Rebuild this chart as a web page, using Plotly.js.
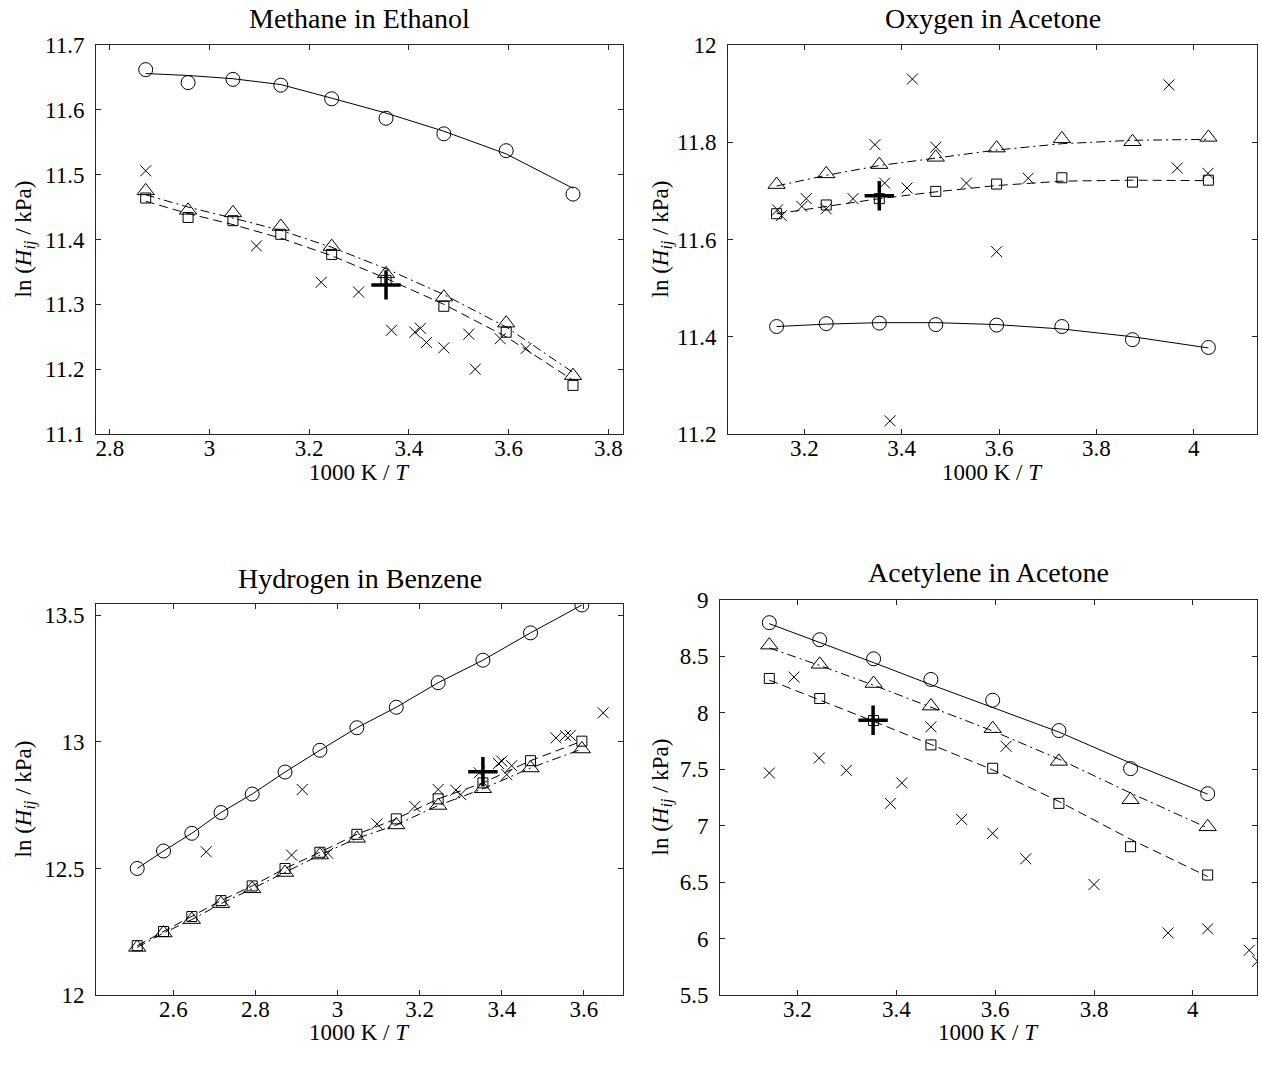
<!DOCTYPE html>
<html>
<head>
<meta charset="utf-8">
<script src="https://cdn.plot.ly/plotly-3.0.1.min.js"></script>
<style>
  html, body { margin: 0; padding: 0; background: #fff; }
  #chart { width: 1262px; height: 1066px; }
</style>
</head>
<body>
<div id="chart"></div>
<script>
// ---------- Panel 1: Methane in Ethanol ----------
const mX        = [2.872, 2.957, 3.047, 3.143, 3.245, 3.354, 3.470, 3.595, 3.729];
const mCirc     = [11.662, 11.642, 11.647, 11.638, 11.617, 11.587, 11.563, 11.537, 11.470];
const mCircFit  = [11.656, 11.653, 11.648, 11.639, 11.618, 11.595, 11.567, 11.532, 11.479];
const mTri      = [11.475, 11.445, 11.441, 11.420, 11.389, 11.347, 11.311, 11.271, 11.190];
const mTriFit   = [11.469, 11.450, 11.433, 11.414, 11.388, 11.355, 11.315, 11.265, 11.195];
const mSq       = [11.464, 11.434, 11.429, 11.408, 11.377, 11.337, 11.297, 11.257, 11.175];
const mSqFit    = [11.459, 11.440, 11.423, 11.402, 11.375, 11.340, 11.300, 11.250, 11.183];
const mExpX     = [2.872, 3.094, 3.224, 3.299, 3.365, 3.412, 3.423, 3.435, 3.470, 3.520, 3.533, 3.583, 3.635];
const mExpY     = [11.506, 11.390, 11.334, 11.319, 11.260, 11.257, 11.263, 11.241, 11.233, 11.254, 11.200, 11.247, 11.232];
const mRefX     = [3.354];
const mRefY     = [11.330];

// ---------- Panel 2: Oxygen in Acetone ----------
const oX        = [3.143, 3.245, 3.354, 3.470, 3.595, 3.729, 3.874, 4.030];
const oCirc     = [11.421, 11.427, 11.428, 11.425, 11.424, 11.421, 11.394, 11.378];
const oCircFit  = [11.421, 11.426, 11.429, 11.429, 11.425, 11.416, 11.400, 11.377];
const oTri      = [11.713, 11.735, 11.754, 11.769, 11.788, 11.807, 11.801, 11.810];
const oTriFit   = [11.710, 11.732, 11.752, 11.768, 11.784, 11.797, 11.804, 11.806];
const oSq       = [11.653, 11.671, 11.684, 11.699, 11.714, 11.727, 11.718, 11.722];
const oSqFit    = [11.653, 11.668, 11.684, 11.698, 11.711, 11.720, 11.722, 11.721];
const oExpX     = [3.145, 3.153, 3.195, 3.204, 3.245, 3.300, 3.345, 3.365, 3.376, 3.411, 3.422, 3.470, 3.533, 3.595, 3.660, 3.949, 3.966, 4.029];
const oExpY     = [11.661, 11.649, 11.668, 11.684, 11.663, 11.684, 11.795, 11.716, 11.227, 11.706, 11.930, 11.790, 11.716, 11.575, 11.726, 11.918, 11.747, 11.736];
const oRefX     = [3.354];
const oRefY     = [11.690];

// ---------- Panel 3: Hydrogen in Benzene ----------
const hX        = [2.512, 2.576, 2.645, 2.716, 2.792, 2.872, 2.957, 3.047, 3.143, 3.245, 3.354, 3.470, 3.595];
const hCirc     = [12.500, 12.569, 12.639, 12.721, 12.794, 12.881, 12.967, 13.056, 13.137, 13.234, 13.323, 13.431, 13.541];
const hTri      = [12.188, 12.245, 12.298, 12.361, 12.420, 12.484, 12.553, 12.619, 12.672, 12.749, 12.815, 12.897, 12.972];
const hSq       = [12.195, 12.251, 12.310, 12.373, 12.431, 12.500, 12.564, 12.635, 12.696, 12.775, 12.838, 12.926, 13.003];
const hExpX     = [2.680, 2.888, 2.914, 2.976, 3.096, 3.188, 3.245, 3.288, 3.300, 3.345, 3.392, 3.400, 3.412, 3.424, 3.532, 3.555, 3.567, 3.647];
const hExpY     = [12.566, 12.553, 12.812, 12.560, 12.676, 12.745, 12.812, 12.809, 12.792, 12.878, 12.915, 12.924, 12.871, 12.906, 13.016, 13.025, 13.026, 13.115];
const hRefX     = [3.354];
const hRefY     = [12.882];

// ---------- Panel 4: Acetylene in Acetone ----------
const aX        = [3.143, 3.245, 3.354, 3.470, 3.595, 3.729, 3.874, 4.030];
const aCirc     = [8.799, 8.648, 8.479, 8.296, 8.112, 7.843, 7.506, 7.284];
const aCircFit  = [8.790, 8.625, 8.445, 8.250, 8.050, 7.830, 7.555, 7.280];
const aTri      = [8.600, 8.430, 8.260, 8.060, 7.860, 7.570, 7.230, 6.990];
const aTriFit   = [8.575, 8.420, 8.245, 8.050, 7.840, 7.590, 7.290, 6.980];
const aSq       = [8.305, 8.127, 7.932, 7.716, 7.509, 7.198, 6.814, 6.563];
const aSqFit    = [8.290, 8.115, 7.925, 7.720, 7.495, 7.215, 6.880, 6.550];
const aExpX     = [3.143, 3.193, 3.244, 3.299, 3.388, 3.411, 3.470, 3.532, 3.595, 3.622, 3.662, 3.800, 3.950, 4.030, 4.114, 4.131];
const aExpY     = [7.467, 8.317, 7.600, 7.491, 7.198, 7.379, 7.876, 7.056, 6.932, 7.704, 6.707, 6.479, 6.050, 6.086, 5.896, 5.799];
const aRefX     = [3.353];
const aRefY     = [7.935];

// ---------- Titles / ranges ----------
const panelTitles = ["Methane in Ethanol", "Oxygen in Acetone", "Hydrogen in Benzene", "Acetylene in Acetone"];
const xLabel = '1000 K / <i>T</i>';
const yLabel = 'ln (<i>H</i><sub><i>ij</i></sub> / kPa)';
const xRanges = [[2.7723, 3.8293], [3.0432, 4.1298], [2.4116, 3.6952], [3.0432, 4.1298]];
const yRanges = [[11.1, 11.7], [11.2, 12.0], [12.0, 13.545], [5.5, 9.0]];
const yDticks = [0.1, 0.2, 0.5, 0.5];

const BLACK = '#000000';
const AX = '#262626';
const FONT = '"Liberation Serif", "DejaVu Serif", serif';

function fitLine(x, y, dash, ax) {
  return { x: x, y: y, mode: 'lines', type: 'scatter', xaxis: 'x' + ax, yaxis: 'y' + ax,
           line: { color: BLACK, width: 1, dash: dash }, hoverinfo: 'skip', showlegend: false };
}
function marks(x, y, symbol, size, ax, lw) {
  return { x: x, y: y, mode: 'markers', type: 'scatter', xaxis: 'x' + ax, yaxis: 'y' + ax,
           marker: { symbol: symbol, size: size, color: BLACK, line: { color: BLACK, width: lw || 1 } },
           showlegend: false };
}
const DASH = '9px,5px';
const DASHDOT = '9px,4px,2px,4px';

const traces = [];
function panel(ax, x, circ, circFit, tri, triFit, sq, sqFit, ex, ey, rx, ry) {
  traces.push(fitLine(x, circFit, 'solid', ax));
  traces.push(fitLine(x, triFit, DASHDOT, ax));
  traces.push(fitLine(x, sqFit, DASH, ax));
  traces.push(marks(x, circ, 'circle-open', 14, ax));
  traces.push(marks(x, tri, 'triangle-up-open', 15, ax));
  traces.push(marks(x, sq, 'square-open', 10, ax));
  traces.push(marks(ex, ey, 'x-thin-open', 11, ax));
  traces.push(marks(rx, ry, 'cross-thin-open', 21, ax, 3.5));
}
panel('',  mX, mCirc, mCircFit, mTri, mTriFit, mSq, mSqFit, mExpX, mExpY, mRefX, mRefY);
panel('2', oX, oCirc, oCircFit, oTri, oTriFit, oSq, oSqFit, oExpX, oExpY, oRefX, oRefY);
panel('3', hX, hCirc, hCirc, hTri, hTri, hSq, hSq, hExpX, hExpY, hRefX, hRefY);
panel('4', aX, aCirc, aCircFit, aTri, aTriFit, aSq, aSqFit, aExpX, aExpY, aRefX, aRefY);

const W = 1262, H = 1066;
const doms = [
  { x: [96, 623],  y: [45, 434] },
  { x: [728, 1257], y: [45, 434] },
  { x: [96, 623],  y: [604, 995] },
  { x: [720, 1257], y: [600, 995] }
];
const TICKSIZE = 23;

function xAxis(i, anchor) {
  const d = doms[i];
  return {
    domain: [d.x[0] / W, d.x[1] / W], anchor: anchor, range: xRanges[i], dtick: 0.2, tick0: 0,
    showline: true, mirror: 'ticks', ticks: 'inside', ticklen: 5, tickcolor: AX, linecolor: AX, linewidth: 1,
    showgrid: false, zeroline: false, tickfont: { family: FONT, size: TICKSIZE, color: BLACK }, ticklabelstandoff: -7
  };
}
function yAxis(i, anchor) {
  const d = doms[i];
  return {
    domain: [1 - d.y[1] / H, 1 - d.y[0] / H], anchor: anchor, range: yRanges[i], dtick: yDticks[i], tick0: 0,
    showline: true, mirror: 'ticks', ticks: 'inside', ticklen: 5, tickcolor: AX, linecolor: AX, linewidth: 1,
    showgrid: false, zeroline: false, tickfont: { family: FONT, size: TICKSIZE, color: BLACK }, ticklabelstandoff: 6
  };
}

// panel titles, x-axis titles, y-axis titles (pixel positions)
const titleY = [18, 18, 578, 572];
const xTitleY = [473, 473, 1032, 1032];
const yTitleX = [25, 662, 25, 662];
const annotations = [];
panelTitles.forEach((t, i) => {
  const d = doms[i];
  const cx = (d.x[0] + d.x[1]) / 2;
  const cy = (d.y[0] + d.y[1]) / 2;
  annotations.push({
    text: t, xref: 'paper', yref: 'paper', showarrow: false,
    x: cx / W, y: 1 - titleY[i] / H, xanchor: 'center', yanchor: 'middle',
    font: { family: FONT, size: 28, color: BLACK }
  });
  annotations.push({
    text: xLabel, xref: 'paper', yref: 'paper', showarrow: false,
    x: cx / W, y: 1 - xTitleY[i] / H, xanchor: 'center', yanchor: 'middle',
    font: { family: FONT, size: TICKSIZE, color: BLACK }
  });
  annotations.push({
    text: yLabel, xref: 'paper', yref: 'paper', showarrow: false, textangle: -90,
    x: yTitleX[i] / W, y: 1 - cy / H, xanchor: 'center', yanchor: 'middle',
    font: { family: FONT, size: TICKSIZE, color: BLACK }
  });
});

const layout = {
  width: W, height: H, margin: { l: 0, r: 0, t: 0, b: 0 },
  paper_bgcolor: '#ffffff', plot_bgcolor: '#ffffff', showlegend: false,
  xaxis: xAxis(0, 'y'), yaxis: yAxis(0, 'x'),
  xaxis2: xAxis(1, 'y2'), yaxis2: yAxis(1, 'x2'),
  xaxis3: xAxis(2, 'y3'), yaxis3: yAxis(2, 'x3'),
  xaxis4: xAxis(3, 'y4'), yaxis4: yAxis(3, 'x4'),
  annotations: annotations
};

Plotly.newPlot('chart', traces, layout, { displayModeBar: false, responsive: false });
</script>
</body>
</html>
